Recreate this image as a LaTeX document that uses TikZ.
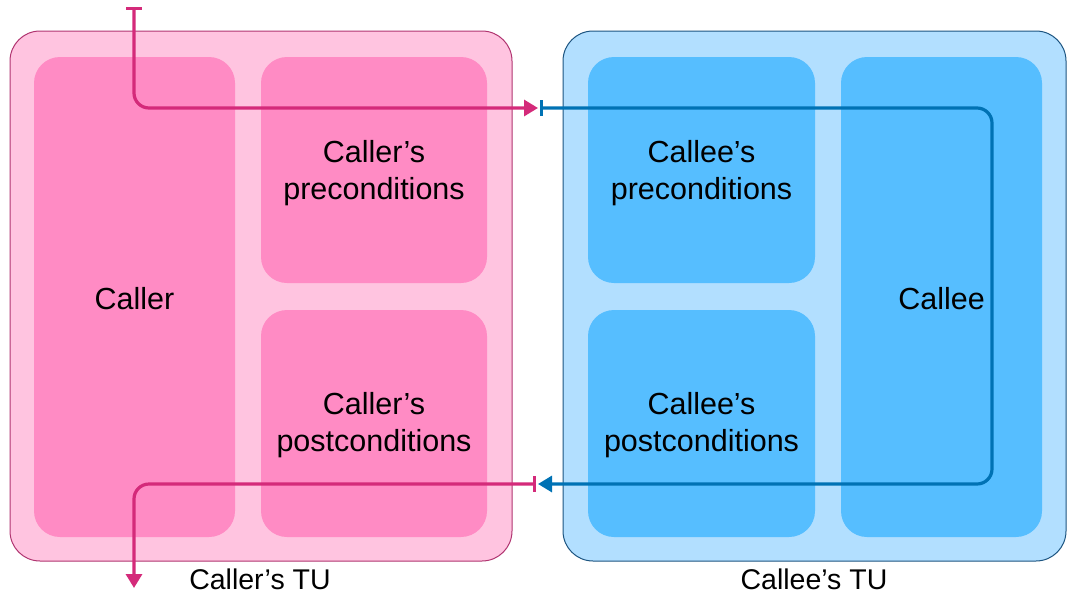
\documentclass[tikz,border=0pt]{standalone}
\usepackage{fontspec}
\setmainfont{Liberation Sans}
\usetikzlibrary{arrows.meta}
\definecolor{pinkout}{RGB}{255,196,224}
\definecolor{pinkin}{RGB}{255,139,196}
\definecolor{pinkborder}{RGB}{176,52,112}
\definecolor{blueout}{RGB}{178,223,255}
\definecolor{bluein}{RGB}{86,190,255}
\definecolor{blueborder}{RGB}{28,84,128}
\definecolor{magline}{RGB}{212,42,122}
\definecolor{blueline}{RGB}{0,114,180}
\tikzset{
  outerbox/.style={rounded corners=30pt, line width=1pt},
  innerbox/.style={rounded corners=26pt, draw=none},
  boxtext/.style={align=center, font=\fontsize{30.5}{37}\selectfont, inner sep=0pt},
  tulabel/.style={font=\fontsize{28.5}{34}\selectfont, inner sep=0pt, anchor=base},
  magflow/.style={draw=magline, line width=3.2pt, rounded corners=15pt},
  blueflow/.style={draw=blueline, line width=3.2pt, rounded corners=15pt},
}
\begin{document}
\begin{tikzpicture}[x=1pt,y=-1pt]
\useasboundingbox (0,0) rectangle (1067,597);
% outer TU boxes
\draw[outerbox, fill=pinkout, draw=pinkborder] (10,31) rectangle (512,561);
\draw[outerbox, fill=blueout, draw=blueborder] (563,31) rectangle (1066,561);
% inner boxes
\node[innerbox, fill=pinkin, minimum width=201pt, minimum height=480pt] (caller) at (134.5,297) {};
\node[innerbox, fill=pinkin, minimum width=226pt, minimum height=226pt] (callerpre) at (374,170) {};
\node[innerbox, fill=pinkin, minimum width=226pt, minimum height=227pt] (callerpost) at (374,423.5) {};
\node[innerbox, fill=bluein, minimum width=227pt, minimum height=226pt] (calleepre) at (701.5,170) {};
\node[innerbox, fill=bluein, minimum width=227pt, minimum height=227pt] (calleepost) at (701.5,423.5) {};
\node[innerbox, fill=bluein, minimum width=201pt, minimum height=480pt] (callee) at (941.5,297) {};
% box texts
\node[boxtext] (callertext) at ([yshift=-2pt]caller.center) {Caller};
\node[boxtext] (callerpretext) at ([yshift=-3pt]callerpre.center) {Caller’s\\preconditions};
\node[boxtext] (callerposttext) at ([yshift=-2pt]callerpost.center) {Caller’s\\postconditions};
\node[boxtext] (calleepretext) at ([yshift=-3pt]calleepre.center) {Callee’s\\preconditions};
\node[boxtext] (calleeposttext) at ([yshift=-2pt]calleepost.center) {Callee’s\\postconditions};
\node[boxtext] (calleetext) at ([yshift=-2pt]callee.center) {Callee};
% TU labels
\node[tulabel] (callertu) at (260,589) {Caller’s TU};
\node[tulabel] (calleetu) at (814,589) {Callee’s TU};
% flow coordinates
\coordinate (entry) at (134,7);
\coordinate (callin) at (538,108);
\coordinate (calleein) at (540,108);
\coordinate (calleecorner1) at (992,108);
\coordinate (calleecorner2) at (992,484);
\coordinate (calleeout) at (538,484);
\coordinate (callerret) at (536,484);
\coordinate (exit) at (134,588);
% flows
\draw[magflow, {Bar[width=16pt,line width=3pt]}-{Triangle[length=14pt,width=16pt]}] (entry) |- (callin);
\draw[blueflow, {Bar[width=16pt,line width=3pt]}-{Triangle[length=14pt,width=16pt]}] (calleein) -- (calleecorner1) -- (calleecorner2) -- (calleeout);
\draw[magflow, {Bar[width=16pt,line width=3pt]}-{Triangle[length=14pt,width=16pt]}] (callerret) -| (exit);
\end{tikzpicture}
\end{document}
